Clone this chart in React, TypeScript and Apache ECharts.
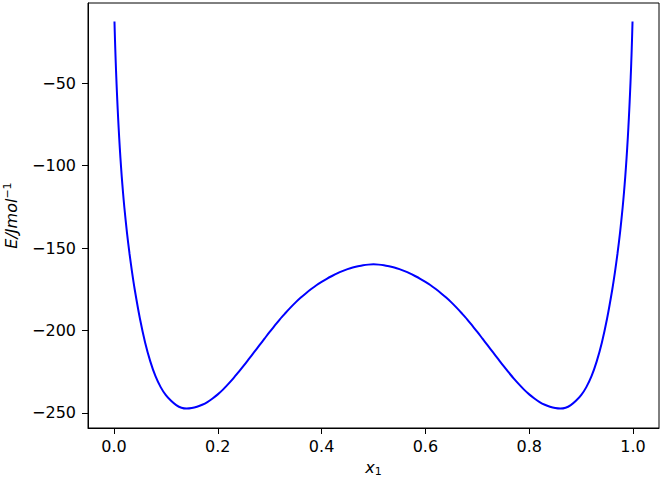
import React, { useEffect, useRef } from "react";
import * as echarts from "echarts";

const xValues: number[] = [
  0.001, 0.002, 0.003, 0.004, 0.005, 0.0065, 0.008, 0.01, 0.0125, 0.015, 0.0175, 0.02, 0.025, 0.03,
  0.035, 0.04, 0.05, 0.06, 0.07, 0.08, 0.09, 0.1, 0.11, 0.12, 0.13, 0.14, 0.15, 0.16, 0.17, 0.18,
  0.19, 0.2, 0.21, 0.22, 0.23, 0.24, 0.25, 0.26, 0.27, 0.28, 0.29, 0.3, 0.31, 0.32, 0.33, 0.34,
  0.35, 0.36, 0.37, 0.38, 0.39, 0.4, 0.41, 0.42, 0.43, 0.44, 0.45, 0.46, 0.47, 0.48, 0.49, 0.5,
  0.51, 0.52, 0.53, 0.54, 0.55, 0.56, 0.57, 0.58, 0.59, 0.6, 0.61, 0.62, 0.63, 0.64, 0.65, 0.66,
  0.67, 0.68, 0.69, 0.7, 0.71, 0.72, 0.73, 0.74, 0.75, 0.76, 0.77, 0.78, 0.79, 0.8, 0.81, 0.82,
  0.83, 0.84, 0.85, 0.86, 0.87, 0.88, 0.89, 0.9, 0.91, 0.92, 0.93, 0.94, 0.95, 0.96, 0.965, 0.97,
  0.975, 0.98, 0.9825, 0.985, 0.9875, 0.99, 0.992, 0.9935, 0.995, 0.996, 0.997, 0.998, 0.999,
];

const energyValues: number[] = [
  -12.5, -23.8, -33.5, -42.2, -50.2, -61.0, -70.8, -82.6, -95.4, -106.6, -116.4, -125.2, -140.4, -153.4,
  -164.9, -175.1, -192.7, -207.2, -218.7, -227.7, -234.3, -239.2, -242.6, -245.2, -246.8, -247.3, -247.0, -246.2, -245.0, -243.35,
  -241.2, -238.7, -235.8, -232.5, -229.0, -225.2, -221.3, -217.2, -213.1, -209.0, -204.9, -200.8, -196.9, -193.0, -189.5, -186.1,
  -182.9, -180.0, -177.3, -174.8, -172.5, -170.5, -168.6, -166.9, -165.3, -163.9, -162.7, -161.7, -161.0, -160.4, -160.0, -159.8,
  -160.0, -160.4, -161.0, -161.7, -162.7, -163.9, -165.3, -166.9, -168.6, -170.5, -172.5, -174.8, -177.3, -180.0, -182.9, -186.1,
  -189.5, -193.0, -196.9, -200.8, -204.9, -209.0, -213.1, -217.2, -221.3, -225.2, -229.0, -232.5, -235.8, -238.7, -241.2, -243.35,
  -245.0, -246.2, -247.0, -247.3, -246.8, -245.2, -242.6, -239.2, -234.3, -227.7, -218.7, -207.2, -192.7, -175.1, -164.9, -153.4,
  -140.4, -125.2, -116.4, -106.6, -95.4, -82.6, -70.8, -61.0, -50.2, -42.2, -33.5, -23.8, -12.5,
];

const xTicks: number[] = [0, 0.2, 0.4, 0.6, 0.8, 1.0];
const yTicks: number[] = [-250, -200, -150, -100, -50];

const FONT = "DejaVu Sans";

export default function App() {
  const ref = useRef<HTMLDivElement>(null);
  useEffect(() => {
    if (!ref.current) return;
    const chart = echarts.init(ref.current, null, { renderer: "svg" });
    const data = xValues.map((x, i) => [x, energyValues[i]]);
    const fmtY = (v: number) => (v < 0 ? "\u2212" + Math.abs(v) : String(v));
    chart.setOption({
      animation: false,
      backgroundColor: "#ffffff",
      grid: {
        left: 88,
        top: 3,
        width: 571,
        height: 425,
        show: true,
        borderColor: "#000000",
        borderWidth: 1,
        containLabel: false,
        outerBoundsMode: "none",
      },
      xAxis: {
        type: "value",
        min: -0.05,
        max: 1.05,
        splitLine: { show: false },
        axisLine: { show: true, onZero: false, lineStyle: { color: "#000", width: 1 } },
        axisTick: { show: true, length: 6, lineStyle: { color: "#000" }, customValues: xTicks },
        axisLabel: {
          show: true,
          customValues: xTicks,
          formatter: (v: number) => v.toFixed(1),
          color: "#000",
          fontFamily: FONT,
          fontSize: 16,
          margin: 10,
        },
        name: "{i|x}{s|1}",
        nameLocation: "middle",
        nameGap: 30,
        nameTextStyle: {
          rich: {
            i: { fontFamily: FONT, fontStyle: "italic", fontSize: 16, color: "#000" },
            s: { fontFamily: FONT, fontSize: 11, color: "#000", padding: [8, 0, 0, 0] },
          },
        },
      },
      yAxis: {
        type: "value",
        min: -259.1,
        max: -1.3,
        splitLine: { show: false },
        axisLine: { show: true, onZero: false, lineStyle: { color: "#000", width: 1 } },
        axisTick: { show: true, length: 6, lineStyle: { color: "#000" }, customValues: yTicks },
        axisLabel: {
          show: true,
          customValues: yTicks,
          formatter: fmtY,
          color: "#000",
          fontFamily: FONT,
          fontSize: 16,
          margin: 12,
        },
        name: "{i|E/Jmol}{s|\u22121}",
        nameLocation: "middle",
        nameGap: 67,
        nameRotate: 90,
        nameTextStyle: {
          rich: {
            i: { fontFamily: FONT, fontStyle: "italic", fontSize: 16, color: "#000" },
            s: { fontFamily: FONT, fontSize: 11, color: "#000", padding: [0, 0, 8, 0] },
          },
        },
      },
      series: [
        {
          type: "line",
          data,
          showSymbol: false,
          smooth: 0.25,
          lineStyle: { color: "#0000ff", width: 2 },
          itemStyle: { color: "#0000ff" },
        },
      ],
    });
    return () => chart.dispose();
  }, []);
  return (
    <div
      ref={ref}
      style={{ position: "fixed", left: 0, top: 0, width: 662, height: 478, background: "#fff" }}
    />
  );
}
